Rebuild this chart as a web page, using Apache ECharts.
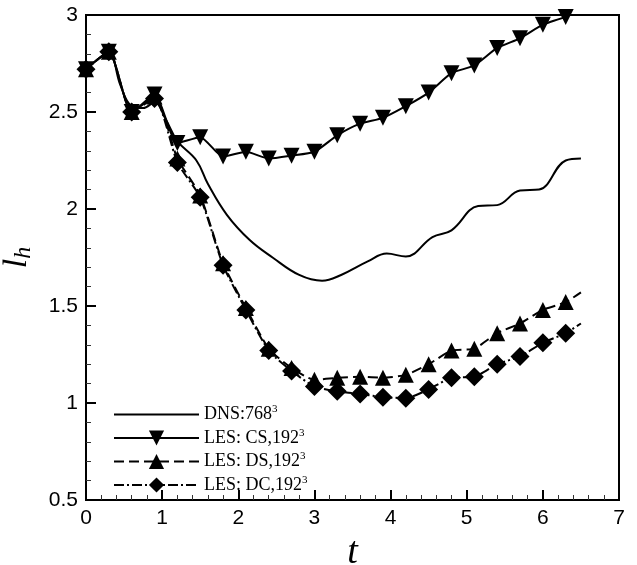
<!DOCTYPE html>
<html>
<head>
<meta charset="utf-8">
<script src="https://cdn.jsdelivr.net/npm/echarts@6/dist/echarts.min.js"></script>
<style>
  html, body { margin: 0; padding: 0; background: #fff; }
  #container { width: 637px; height: 565px; }
</style>
</head>
<body>
<div id="container"></div>
<script>
// marker times of the LES runs
var tMarks = [0, 0.3, 0.6, 0.9, 1.2, 1.5, 1.8, 2.1, 2.4, 2.7, 3.0, 3.3, 3.6, 3.9, 4.2, 4.5, 4.8, 5.1, 5.4, 5.7, 6.0, 6.3];
var csVals = [2.72, 2.81, 2.50, 2.59, 2.34, 2.37, 2.27, 2.295, 2.26, 2.275, 2.295, 2.38, 2.44, 2.47, 2.53, 2.60, 2.70, 2.74, 2.83, 2.88, 2.95, 2.99];
var dsVals = [2.72, 2.81, 2.50, 2.58, 2.26, 2.07, 1.72, 1.49, 1.28, 1.18, 1.12, 1.13, 1.135, 1.13, 1.145, 1.20, 1.27, 1.28, 1.36, 1.41, 1.48, 1.52];
var dcVals = [2.72, 2.81, 2.50, 2.57, 2.24, 2.06, 1.71, 1.48, 1.27, 1.165, 1.085, 1.06, 1.047, 1.03, 1.025, 1.07, 1.13, 1.135, 1.20, 1.24, 1.31, 1.36];
// line ends (no marker)
var tEnd = 6.5;
var dsEnd = 1.57;
var dcEnd = 1.41;

// DNS curve
var dnsT = [0, 0.15, 0.3, 0.45, 0.6, 0.75, 0.9, 1.05, 1.2, 1.45, 1.6, 1.85, 2.15, 2.45, 2.8, 3.1, 3.35, 3.7, 3.95, 4.2, 4.55, 4.8, 5.15, 5.4, 5.7, 5.95, 6.3, 6.5];
var dnsL = [2.72, 2.77, 2.81, 2.64, 2.53, 2.52, 2.55, 2.46, 2.35, 2.25, 2.13, 1.97, 1.84, 1.75, 1.66, 1.63, 1.66, 1.73, 1.77, 1.755, 1.855, 1.89, 2.015, 2.02, 2.095, 2.10, 2.25, 2.26];

var legendNames = ['DNS:768', 'LES: CS,192', 'LES: DS,192', 'LES: DC,192'];

function pairs(xs, ys) {
  return xs.map(function (x, i) { return [x, ys[i]]; });
}
function withEnd(xs, ys, te, ye) {
  var d = pairs(xs, ys);
  if (te != null) d.push({ value: [te, ye], symbol: 'none' });
  return d;
}

var myChart = echarts.init(document.getElementById('container'));

var axisFont = { color: '#000', fontSize: 21, fontFamily: 'Liberation Sans, Arial, sans-serif' };
var serif = 'Liberation Serif, Times New Roman, serif';

var option = {
  animation: false,
  backgroundColor: '#fff',
  grid: {
    left: 86, right: 18, top: 15, bottom: 65,
    outerBoundsMode: 'none', containLabel: false,
    show: true, borderColor: '#000', borderWidth: 2
  },
  legend: {
    left: 108, top: 399, orient: 'vertical',
    itemWidth: 85, itemHeight: 19, itemGap: 4,
    data: [
      { name: legendNames[0], itemStyle: { opacity: 0 } },
      legendNames[1], legendNames[2], legendNames[3]
    ],
    formatter: function (n) { return n + '{s|3}'; },
    textStyle: {
      color: '#000', fontSize: 18, fontFamily: serif,
      rich: { s: { fontSize: 11, verticalAlign: 'top', fontFamily: serif, color: '#000', padding: [0, 0, 10, 0] } }
    }
  },
  xAxis: {
    type: 'value', min: 0, max: 7, interval: 1,
    name: 't', nameLocation: 'middle', nameGap: 28,
    nameTextStyle: { color: '#000', fontSize: 38, fontStyle: 'italic', fontFamily: serif },
    axisLine: { show: true, onZero: false, lineStyle: { color: '#000', width: 2 } },
    axisTick: { show: true, inside: true, length: 10, lineStyle: { color: '#000', width: 2 } },
    minorTick: { show: true, splitNumber: 5, length: 5, lineStyle: { color: '#333', width: 1 } },
    splitLine: { show: false },
    axisLabel: Object.assign({ margin: 8 }, axisFont)
  },
  yAxis: {
    type: 'value', min: 0.5, max: 3, interval: 0.5,
    name: '{l|l}{h|h}', nameLocation: 'middle', nameGap: 50, nameRotate: 90,
    nameTextStyle: {
      color: '#000',
      rich: {
        l: { fontSize: 34, fontStyle: 'italic', fontFamily: serif, color: '#000' },
        h: { fontSize: 24, fontStyle: 'italic', fontFamily: serif, color: '#000', padding: [14, 0, 0, 0] }
      }
    },
    axisLine: { show: true, onZero: false, lineStyle: { color: '#000', width: 2 } },
    axisTick: { show: true, inside: true, length: 10, lineStyle: { color: '#000', width: 2 } },
    minorTick: { show: true, splitNumber: 5, length: 5, lineStyle: { color: '#333', width: 1 } },
    splitLine: { show: false },
    axisLabel: Object.assign({ margin: 8, formatter: function (v) { return String(v); } }, axisFont)
  },
  series: [
    {
      name: legendNames[0], type: 'line', smooth: 0.4, showSymbol: false, symbol: 'none',
      data: pairs(dnsT, dnsL),
      lineStyle: { color: '#000', width: 2 }, itemStyle: { color: '#000' }, z: 2
    },
    {
      name: legendNames[1], type: 'line', smooth: 0.2,
      data: withEnd(tMarks, csVals, null),
      symbol: 'triangle', symbolRotate: 180, symbolSize: 16,
      lineStyle: { color: '#000', width: 2 }, itemStyle: { color: '#000' }, z: 3
    },
    {
      name: legendNames[2], type: 'line', smooth: 0.2,
      data: withEnd(tMarks, dsVals, tEnd, dsEnd),
      symbol: 'triangle', symbolSize: 16,
      lineStyle: { color: '#000', width: 2, type: [10, 5] }, itemStyle: { color: '#000' }, z: 3
    },
    {
      name: legendNames[3], type: 'line', smooth: 0.2,
      data: withEnd(tMarks, dcVals, tEnd, dcEnd),
      symbol: 'diamond', symbolSize: 19,
      lineStyle: { color: '#000', width: 2, type: [10, 3, 2, 3] }, itemStyle: { color: '#000' }, z: 4
    }
  ]
};
option && myChart.setOption(option);
</script>
</body>
</html>
